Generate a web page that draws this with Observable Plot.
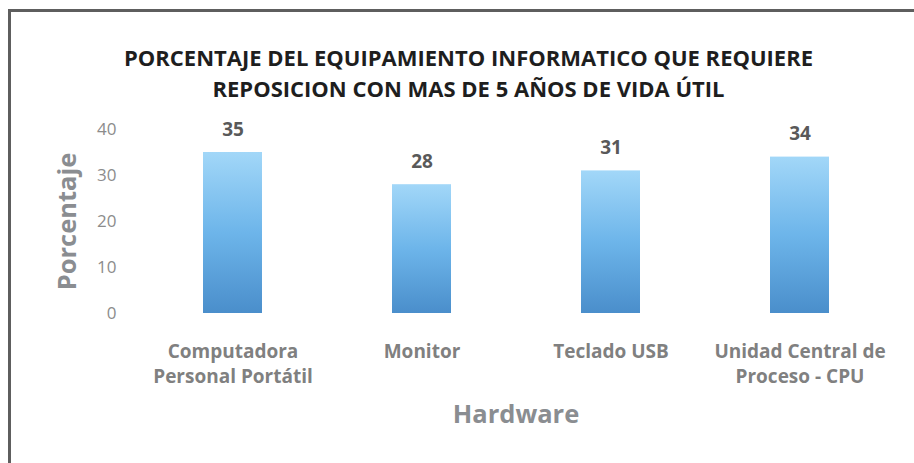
<!DOCTYPE html>
<html>
<head>
<meta charset="utf-8">
<script src="https://cdn.jsdelivr.net/npm/d3@7"></script>
<script src="https://cdn.jsdelivr.net/npm/@observablehq/plot@0.6"></script>
<style>
  html, body { margin: 0; padding: 0; background: #ffffff; }
  #wrap { position: relative; width: 914px; height: 463px; overflow: hidden; background: #fff; }
  #border { position: absolute; left: 8px; top: 9px; width: 1200px; height: 1200px;
            border-left: 3px solid #5e5e5e; border-top: 3px solid #5e5e5e; pointer-events: none; }
  #chart svg { display: block; }
</style>
</head>
<body>
<div id="wrap"><div id="chart"></div><div id="border"></div></div>
<script>
const categories = ["Computadora Personal Portátil", "Monitor", "Teclado USB", "Unidad Central de Proceso - CPU"];
const values = [35, 28, 31, 34];
const tickLabels = ["Computadora\nPersonal Portátil", "Monitor", "Teclado USB", "Unidad Central de\nProceso - CPU"];
const yTicks = [0, 10, 20, 30, 40];
const titleLines = ["PORCENTAJE DEL EQUIPAMIENTO INFORMATICO QUE REQUIERE", "REPOSICION CON MAS DE 5 AÑOS DE VIDA ÚTIL"];
const xTitle = "Hardware";
const yTitle = "Porcentaje";

const data = categories.map((c, i) => ({category: c, value: values[i]}));

const chart = Plot.plot({
  width: 914,
  height: 463,
  marginLeft: 137.5,
  marginRight: 20.5,
  marginTop: 129,
  marginBottom: 150,
  style: {fontFamily: "'Open Sans', sans-serif", background: "white", overflow: "visible"},
  x: {domain: categories, paddingInner: 0.688, paddingOuter: 0.344, align: 0.5},
  y: {domain: [0, 40], nice: false},
  marks: [
    Plot.barY(data, {x: "category", y: "value", fill: "url(#barGrad)"}),
    Plot.text(data, {x: "category", y: "value", text: d => String(d.value), lineAnchor: "bottom", dy: -17,
      fontSize: 19, fontWeight: "bold", fill: "#595959"}),
    Plot.axisY({ticks: yTicks, tickSize: 0, tickPadding: 21.5, fontSize: 17, fill: "#8c8c8c", label: null}),
    Plot.axisX({tickSize: 0, tickPadding: 27, tickFormat: d => tickLabels[categories.indexOf(d)],
      fontSize: 19, fontWeight: "bold", fill: "#808080", lineHeight: 1.32, label: null}),
    Plot.text([titleLines.join("\n")], {frameAnchor: "top", lineAnchor: "top", textAnchor: "middle", dx: -47.5, dy: -86,
      fontSize: 22, fontWeight: "bold", fill: "#1e1e1e", lineHeight: 1.41}),
    Plot.text([xTitle], {frameAnchor: "bottom", lineAnchor: "bottom", textAnchor: "middle", dy: 109,
      fontSize: 25.5, fontWeight: "bold", fill: "#8a8d91"}),
    Plot.text([yTitle], {frameAnchor: "left", lineAnchor: "bottom", textAnchor: "middle", rotate: -90, dx: -62.5,
      fontSize: 25.5, fontWeight: "bold", fill: "#8a8d91"})
  ]
});

const defs = d3.select(chart).insert("defs", ":first-child");
const grad = defs.append("linearGradient").attr("id", "barGrad")
  .attr("x1", 0).attr("y1", 0).attr("x2", 0).attr("y2", 1);
grad.append("stop").attr("offset", "0%").attr("stop-color", "#a2d7f8");
grad.append("stop").attr("offset", "50%").attr("stop-color", "#6db5ea");
grad.append("stop").attr("offset", "100%").attr("stop-color", "#4a8ecb");

document.getElementById("chart").appendChild(chart);
</script>
</body>
</html>
